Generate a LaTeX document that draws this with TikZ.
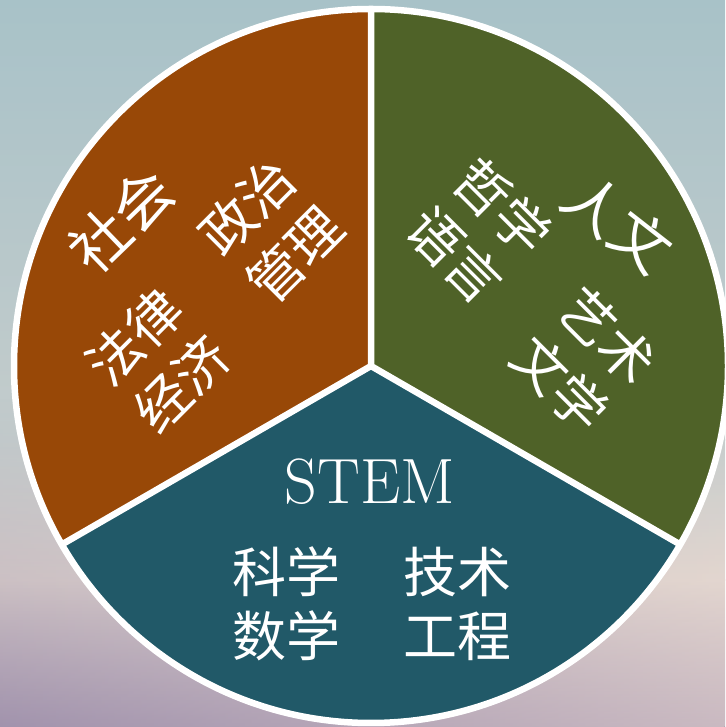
\documentclass[tikz,border=0pt]{standalone}
\usepackage{fontspec}
\newfontfamily\cjk{Noto Sans CJK SC}
\usetikzlibrary{fadings}

\definecolor{socbrown}{HTML}{984807}
\definecolor{humgreen}{HTML}{4F6228}
\definecolor{stemteal}{HTML}{215968}
\definecolor{bgtop}{HTML}{A8C2C8}
\definecolor{bgmid}{HTML}{C4CCCC}
\definecolor{bgwarm}{HTML}{DCD0CC}
\definecolor{bgbot}{HTML}{AE9EB3}
\definecolor{tintcool}{HTML}{8A7FA2}
\definecolor{tintwarm}{HTML}{FFEEDD}

\tikzfading[name=fadeup, top color=transparent!100, bottom color=transparent!0]

\begin{document}
\begin{tikzpicture}[x=1pt,y=1pt,
        word/.style={text=white,font=\cjk\fontsize{54}{67}\selectfont,align=center,inner sep=0pt},
        flatword/.style={word,font=\cjk\fontsize{54}{64}\selectfont},
        bigword/.style={word,font=\cjk\fontsize{59}{59}\selectfont},
        title/.style={text=white,font=\fontsize{64}{64}\selectfont,inner sep=0pt},
        rim/.style={draw=white,line width=6.5pt,line join=round}]

        %\draw [help lines] (0,0) grid (725,727);

        \useasboundingbox (0,0) rectangle (725,727);
        \shade[top color=bgtop,bottom color=bgmid] (0,727) rectangle (725,286);
        \shade[top color=bgmid,bottom color=bgwarm] (0,287) rectangle (725,146);
        \shade[top color=bgwarm,bottom color=bgbot] (0,147) rectangle (725,0);
        \shade[left color=tintcool,right color=tintwarm,fill opacity=0.35,path fading=fadeup] (0,0) rectangle (725,330);

        \coordinate (o) at (371,361);

        \fill[socbrown] (o) -- ++(90:357) arc[start angle=90,end angle=210,radius=357pt] -- cycle;
        \fill[stemteal] (o) -- ++(210:357) arc[start angle=210,end angle=330,radius=357pt] -- cycle;
        \fill[humgreen] (o) -- ++(330:357) arc[start angle=-30,end angle=90,radius=357pt] -- cycle;
        \draw[rim] (o) circle[radius=357pt];
        \draw[rim] (o) -- ++(90:357) (o) -- ++(210:357) (o) -- ++(330:357);

        \path   (121,507) node (soc) [bigword,rotate=44] {社会}
                (271,496) node (pol) [word,rotate=45] {政治\\管理}
                (158,367) node (law) [word,rotate=45] {法律\\经济}
                (618,504) node (hum) [bigword,rotate=-38] {人文}
                (479,496) node (phi) [word,rotate=-45] {哲学\\语言}
                (584,367) node (art) [word,rotate=-45] {艺术\\文学}
                (370,245) node (stem) [title] {STEM}
                (286,123) node (sci) [flatword] {科学\\数学}
                (457,123) node (tech) [flatword] {技术\\工程};

\end{tikzpicture}
\end{document}
